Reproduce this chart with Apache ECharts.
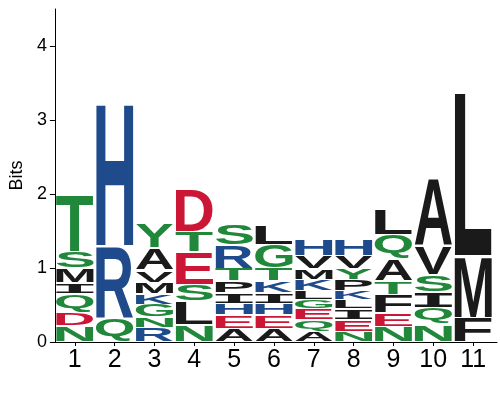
<!DOCTYPE html>
<html><head><meta charset="utf-8">
<script src="https://cdn.jsdelivr.net/npm/echarts@6/dist/echarts.min.js"></script>
<style>html,body{margin:0;padding:0;background:#fff}#c{width:500px;height:400px}</style>
</head><body><div id="c"></div>
<script>
// sequence positions (x tick labels)
const positions = [1,2,3,4,5,6,7,8,9,10,11];
// y tick labels (bits)
const yTicks = [0,1,2,3,4];
// letters of each position, from bottom to top
const stackLetters = [
  ['N','D','Q','I','M','S','T'],
  ['Q','R','H'],
  ['R','N','G','K','M','V','A','Y'],
  ['N','L','S','E','T','D'],
  ['A','E','H','I','P','T','R','S'],
  ['A','E','H','I','K','T','G','L'],
  ['A','Q','E','G','L','K','M','V','H'],
  ['N','E','I','L','K','P','Y','V','H'],
  ['N','E','F','T','A','Q','L'],
  ['N','Q','I','S','V','A'],
  ['F','M','L']
];
// letter heights in bits, same order
const stackBits = [
  [0.22,0.175,0.25,0.15,0.2,0.23,0.78],
  [0.317,0.98,1.93],
  [0.188,0.146,0.173,0.143,0.155,0.165,0.305,0.335],
  [0.237,0.316,0.225,0.44,0.276,0.582],
  [0.181,0.18,0.159,0.142,0.162,0.169,0.316,0.293],
  [0.181,0.18,0.159,0.142,0.162,0.169,0.316,0.27],
  [0.138,0.16,0.15,0.119,0.122,0.153,0.151,0.176,0.234],
  [0.138,0.16,0.15,0.119,0.122,0.153,0.151,0.176,0.234],
  [0.212,0.183,0.248,0.181,0.298,0.326,0.357],
  [0.237,0.226,0.207,0.237,0.391,0.913],
  [0.327,0.835,2.2]
];
// residue colour groups
const polarLetters = ['G','S','T','Y','C','Q','N'];
const basicLetters = ['K','R','H'];
const acidicLetters = ['D','E'];
const groupColors = {polar:'#21883b', basic:'#1f4b8c', acidic:'#cc1636', hydrophobic:'#1a1a1a'};

function colorOf(ch){
  if (polarLetters.includes(ch)) return groupColors.polar;
  if (basicLetters.includes(ch)) return groupColors.basic;
  if (acidicLetters.includes(ch)) return groupColors.acidic;
  return groupColors.hydrophobic;
}

const FONT = 'bold 100px "Liberation Sans", Arial, sans-serif';
const FONT_I = 'bold 100px "DejaVu Sans Mono", "Liberation Mono", monospace';
function fontOf(ch){ return ch === 'I' ? FONT_I : FONT; }
const mctx = document.createElement('canvas').getContext('2d');
const gcache = {};
function glyph(ch){
  if (!gcache[ch]) {
    mctx.font = fontOf(ch); mctx.textAlign = 'left'; mctx.textBaseline = 'middle';
    const m = mctx.measureText(ch);
    gcache[ch] = {l:m.actualBoundingBoxLeft, r:m.actualBoundingBoxRight, a:m.actualBoundingBoxAscent, d:m.actualBoundingBoxDescent};
  }
  return gcache[ch];
}

const data = [], dataLetters = [];
positions.forEach((p, i) => {
  let base = 0;
  stackLetters[i].forEach((ch, j) => {
    const h = stackBits[i][j];
    data.push([p, base, base + h]);
    dataLetters.push(ch);
    base += h;
  });
});

const chart = echarts.init(document.getElementById('c'), null, {renderer:'canvas'});
chart.setOption({
  animation: false,
  grid: {left:45, top:9, width:452, bottom:58, containLabel:false},
  xAxis: {
    type:'value', min:0.5, max:11.6,
    splitLine:{show:false},
    axisLine:{show:true, onZero:false, lineStyle:{color:'#000', width:1}},
    axisTick:{show:true, length:4, lineStyle:{color:'#000'}, customValues: positions},
    axisLabel:{fontSize:25, color:'#000', margin:6, fontFamily:'"Liberation Sans", Arial, sans-serif', customValues: positions}
  },
  yAxis: {
    type:'value', min:0, max:4.5,
    name:'Bits', nameLocation:'middle', nameGap:14,
    nameTextStyle:{fontSize:18, color:'#000', fontFamily:'"Liberation Sans", Arial, sans-serif'},
    splitLine:{show:false},
    axisLine:{show:true, lineStyle:{color:'#000', width:1}},
    axisTick:{show:true, length:5, lineStyle:{color:'#000'}, customValues: yTicks},
    axisLabel:{fontSize:18, color:'#000', margin:8, fontFamily:'"Liberation Sans", Arial, sans-serif', customValues: yTicks}
  },
  series: [{
    type:'custom',
    data: data,
    encode:{x:0, y:[1,2]},
    renderItem: function(params, api){
      const p = api.value(0), y0 = api.value(1), y1 = api.value(2);
      const ch = dataLetters[params.dataIndex];
      const pb = api.coord([p, y0]);
      const pt = api.coord([p, y1]);
      const band = api.size([1, 0])[0];
      const w = band * 0.94;
      const left = pb[0] - w / 2;
      const top = pt[1] + 0.8;
      const h = Math.max(0.5, pb[1] - pt[1] - 1.6);
      const g = glyph(ch);
      const sx = w / (g.l + g.r), sy = h / (g.a + g.d);
      return {
        type:'text',
        x: left + g.l * sx,
        y: top + g.a * sy,
        scaleX: sx, scaleY: sy,
        style:{text: ch, font: fontOf(ch), fill: colorOf(ch), align:'left', verticalAlign:'middle'}
      };
    }
  }]
});
</script>
</body></html>
